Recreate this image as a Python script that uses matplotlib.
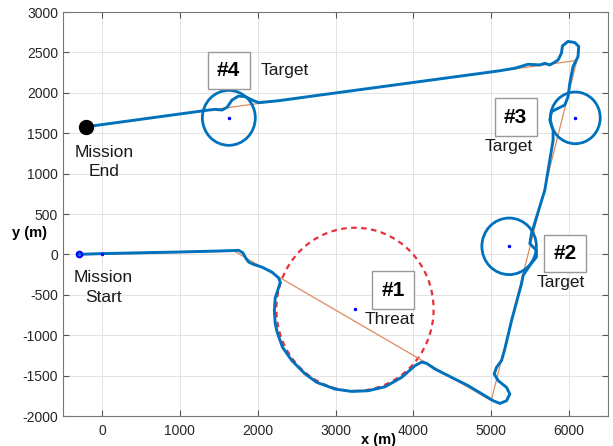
import matplotlib
matplotlib.use('Agg')
import matplotlib.pyplot as plt
from matplotlib.patches import Circle

plt.rcParams['font.family'] = ['Liberation Sans', 'DejaVu Sans']
plt.rcParams['axes.unicode_minus'] = False

# reference route through the waypoints (thin orange)
ref_x = [-300, 0, 1700, 5000, 6100, -200]
ref_y = [0, 0, 40, -1810, 2400, 1580]

# flown trajectory (thick blue)
traj_x = [-300, 0, 1000, 1500, 1756, 1810, 1850, 1885, 1949, 2055, 2183, 2269, 2291,
          2260, 2225, 2215, 2225, 2250, 2290, 2320, 2440, 2611, 2760, 2996, 3209,
          3423, 3637, 3850, 4021, 4107, 4171, 4278, 4491, 4705, 4919, 5026, 5111,
          5197, 5239, 5197, 5090, 5038, 5068, 5132, 5175, 5261, 5389, 5410, 5496,
          5581, 5581, 5496, 5517, 5688, 5795, 5795, 5752, 5774, 5859, 5945, 5987,
          6009, 6051, 6115, 6124, 6073, 5987, 5915, 5902, 5859, 5808, 5752, 5688,
          5624, 5474, 5303, 5090, 2739, 2269, 2013, 1949, 1842, 1756, 1671, 1607,
          1543, 1458, 1372, 1115, -200]
traj_y = [0, 10, 30, 42, 50, 20, -50, -95, -124, -157, -219, -290, -343,
          -440, -540, -700, -850, -960, -1070, -1150, -1315, -1480, -1584, -1667, -1696,
          -1687, -1638, -1522, -1377, -1332, -1349, -1419, -1522, -1625, -1749, -1811, -1845,
          -1811, -1728, -1646, -1563, -1480, -1398, -1315, -1170, -819, -364, -260, -136,
          -33, 50, 133, 257, 794, 1414, 1538, 1663, 1766, 1808, 1849, 1952,
          2117, 2324, 2448, 2573, 2622, 2636, 2581, 2490, 2407, 2374, 2345, 2365,
          2345, 2353, 2304, 2270, 1964, 1902, 1878, 1902, 1952, 1960, 1911, 1820,
          1787, 1795, 1787, 1753, 1580]

# threat and targets: centre x, centre y, radius
threat = (3250, -680, 1010)
targets_x = [5230, 6080, 1630]
targets_y = [100, 1690, 1690]
targets_r = [350, 320, 340]

start_pt = (-300, 0)
end_pt = (-200, 1580)

blue = '#0072BD'

fig = plt.figure(figsize=(6.13, 4.46), dpi=100)
ax = fig.add_axes([63/613, 30/446, 545/613, 404/446])

ax.plot(traj_x, traj_y, color=blue, lw=2.1, zorder=3, solid_joinstyle='round')
ax.plot(ref_x, ref_y, color='#E08A5E', lw=0.9, zorder=2.5)

ax.add_patch(Circle(threat[:2], threat[2], fill=False, ec='#E8303A', lw=1.6,
                    ls=(0, (2.5, 2)), zorder=2))
ax.plot(threat[0], threat[1], '.', color='b', ms=3, zorder=5)
for cx, cy, r in zip(targets_x, targets_y, targets_r):
    ax.add_patch(Circle((cx, cy), r, fill=False, ec=blue, lw=2, zorder=3))
    ax.plot(cx, cy, '.', color='b', ms=3, zorder=5)

ax.plot(*start_pt, 'o', mfc='none', mec='b', ms=4, mew=1.5, zorder=5)
ax.plot(0, 0, '.', color='b', ms=3, zorder=5)
ax.plot(*end_pt, 'o', color='k', ms=10, zorder=5)

box = dict(boxstyle='square,pad=0.45', fc='white', ec='#999999', lw=1)
nums = [('#1', 3744, -443), ('#2', 5949, 12), ('#3', 5314, 1700), ('#4', 1628, 2277)]
for t, x, y in nums:
    ax.text(x, y, t, fontsize=15, fontweight='bold', ha='center', va='center',
            bbox=box, zorder=6)

lab_kw = dict(fontsize=12.5, color='#1a1a1a', zorder=6)
ax.text(3701, -806, 'Threat', ha='center', va='center', **lab_kw)
ax.text(5887, -343, 'Target', ha='center', va='center', **lab_kw)
ax.text(5228, 1331, 'Target', ha='center', va='center', **lab_kw)
ax.text(2038, 2270, 'Target', ha='left', va='center', **lab_kw)
ax.text(26, 1148, 'Mission\nEnd', ha='center', va='center', linespacing=1.35, **lab_kw)
ax.text(17, -409, 'Mission\nStart', ha='center', va='center', linespacing=1.35, **lab_kw)

ax.set_xlim(-500, 6500)
ax.set_ylim(-2000, 3000)
ax.set_xticks(range(0, 6001, 1000))
ax.set_yticks(range(-2000, 3001, 500))
ax.grid(True, color='#e3e3e3', lw=0.7)
ax.set_axisbelow(True)
ax.tick_params(direction='in', top=True, right=True, labelsize=10,
               labelcolor='#262626', color='#555555', length=4)
ax.tick_params(axis='x', pad=6)
for s in ax.spines.values():
    s.set_color('#777777')
    s.set_linewidth(0.8)

ax.text(0.578, -0.06, 'x (m)', transform=ax.transAxes, ha='center', va='center',
        fontsize=10.5, fontweight='bold')
ax.text(-0.061, 0.453, 'y (m)', transform=ax.transAxes, ha='center', va='center',
        fontsize=10.5, fontweight='bold')

fig.savefig('out.png', dpi=100)
